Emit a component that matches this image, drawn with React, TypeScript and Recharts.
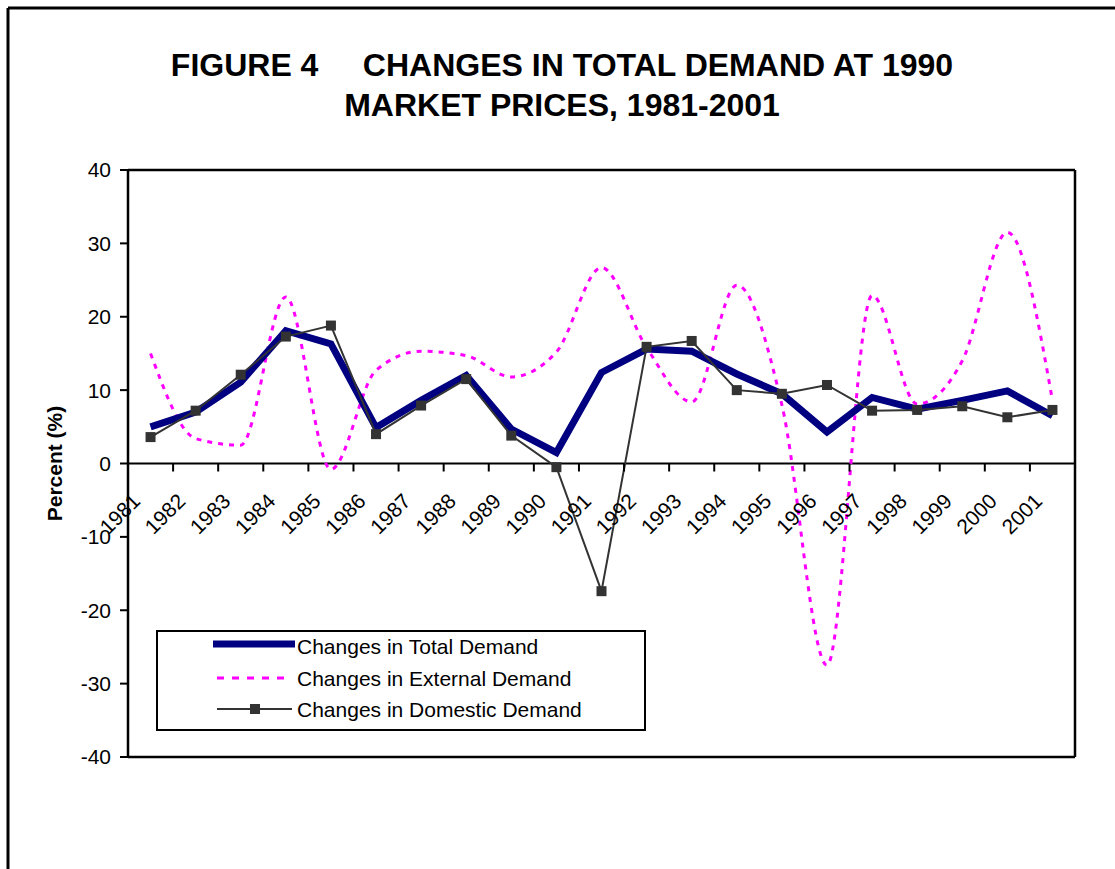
import { Line, LineChart, ReferenceLine, XAxis, YAxis } from 'recharts'

const years = ['1981', '1982', '1983', '1984', '1985', '1986', '1987', '1988', '1989', '1990', '1991',
  '1992', '1993', '1994', '1995', '1996', '1997', '1998', '1999', '2000', '2001']

const totalDemand = [5.0, 7.0, 11.1, 18.1, 16.3, 4.9, 8.6, 12.0, 4.7, 1.5, 12.4, 15.6, 15.3, 12.2, 9.5, 4.3, 9.0, 7.4, 8.6, 9.9, 6.5]
const externalDemand = [15.0, 3.4, 2.5, 22.7, -0.8, 12.7, 15.3, 14.7, 11.8, 15.2, 26.7, 15.8, 8.4, 24.3, 8.0, -27.5, 22.9, 8.1, 14.0, 31.5, 8.6]
const domesticDemand = [3.6, 7.2, 12.1, 17.3, 18.8, 4.0, 7.9, 11.5, 3.8, -0.5, -17.4, 15.9, 16.7, 10.0, 9.5, 10.7, 7.2, 7.3, 7.8, 6.3, 7.3]

const yTicks = [-40, -30, -20, -10, 0, 10, 20, 30, 40]
const Y_MIN = -40
const Y_MAX = 40

const chartData = years.map((year, i) => ({
  year,
  total: totalDemand[i],
  external: externalDemand[i],
  domestic: domesticDemand[i],
}))

const W = 1115
const H = 869
const plot = { left: 128, right: 1075, top: 170, bottom: 757 }
const plotW = plot.right - plot.left
const plotH = plot.bottom - plot.top
const band = plotW / years.length
const zeroY = plot.top + (plotH * Y_MAX) / (Y_MAX - Y_MIN)

const FONT = '"Liberation Sans", Arial, sans-serif'

// year labels sit on the zero line, tick marks between categories
function YearTick(props: any) {
  const { x, payload, index } = props
  const isLast = index === years.length - 1
  const tx = x - 9
  const ty = zeroY + 39
  return (
    <g>
      <line x1={x - band / 2} x2={x - band / 2} y1={zeroY} y2={zeroY + 8} stroke='#000' strokeWidth={2} />
      {isLast && (
        <line x1={x + band / 2} x2={x + band / 2} y1={zeroY} y2={zeroY + 8} stroke='#000' strokeWidth={2} />
      )}
      <text
        x={tx}
        y={ty}
        textAnchor='end'
        fontSize={21}
        fontFamily={FONT}
        fill='#000'
        transform={`rotate(-45 ${tx} ${ty})`}
      >
        {payload.value}
      </text>
    </g>
  )
}

function SquareDot(props: any) {
  const { cx, cy, index } = props
  if (cx == null || cy == null) return <g key={index} />
  return <rect key={index} x={cx - 5} y={cy - 5} width={10} height={10} fill='#333333' />
}

function LegendBox() {
  const left = 157
  const top = 631
  const rows = [
    { label: 'Changes in Total Demand', y: 646 },
    { label: 'Changes in External Demand', y: 678 },
    { label: 'Changes in Domestic Demand', y: 709 },
  ]
  return (
    <g>
      <rect x={left} y={top} width={488} height={99} fill='#fff' stroke='#000' strokeWidth={2} />
      <line x1={213} x2={295} y1={rows[0].y - 2} y2={rows[0].y - 2} stroke='#000080' strokeWidth={7} />
      <line x1={217} x2={287} y1={rows[1].y} y2={rows[1].y} stroke='#FF00FF' strokeWidth={3} strokeDasharray='7 8' />
      <line x1={217} x2={292} y1={rows[2].y} y2={rows[2].y} stroke='#333333' strokeWidth={2} />
      <rect x={250} y={rows[2].y - 5} width={10} height={10} fill='#333333' />
      {rows.map((r) => (
        <text key={r.label} x={297} y={r.y + 8} fontSize={21} fontFamily={FONT} fill='#000'>
          {r.label}
        </text>
      ))}
    </g>
  )
}

export default function App() {
  return (
    <div style={{ position: 'absolute', left: 0, top: 0, width: W, height: H, background: '#fff' }}>
      <LineChart
        width={W}
        height={H}
        data={chartData}
        margin={{ top: plot.top - 1, right: W - plot.right - 1, bottom: H - plot.bottom - 1, left: plot.left - 48 }}
      >
        <ReferenceLine y={0} stroke='#000' strokeWidth={2} />
        <XAxis
          dataKey='year'
          height={1}
          padding={{ left: band / 2, right: band / 2 }}
          interval={0}
          tickLine={false}
          tickSize={0}
          tickMargin={0}
          axisLine={{ stroke: '#000', strokeWidth: 2.5 }}
          tick={<YearTick />}
        />
        <XAxis
          xAxisId='top'
          dataKey='year'
          orientation='top'
          height={1}
          tick={false}
          tickLine={false}
          axisLine={{ stroke: '#000', strokeWidth: 2.5 }}
        />
        <YAxis
          width={48}
          domain={[Y_MIN, Y_MAX]}
          ticks={yTicks}
          interval={0}
          tickSize={8}
          tickMargin={9}
          tickLine={{ stroke: '#000', strokeWidth: 2 }}
          axisLine={{ stroke: '#000', strokeWidth: 2.5 }}
          tick={{ fill: '#000', fontSize: 21, fontFamily: FONT }}
        />
        <YAxis
          yAxisId='right'
          orientation='right'
          width={1}
          domain={[Y_MIN, Y_MAX]}
          tick={false}
          tickLine={false}
          axisLine={{ stroke: '#000', strokeWidth: 2.5 }}
        />
        <Line
          dataKey='external'
          type='monotone'
          stroke='#FF00FF'
          strokeWidth={3}
          strokeDasharray='5 6'
          dot={false}
          isAnimationActive={false}
        />
        <Line
          dataKey='total'
          type='linear'
          stroke='#000080'
          strokeWidth={7}
          dot={false}
          isAnimationActive={false}
        />
        <Line
          dataKey='domestic'
          type='linear'
          stroke='#333333'
          strokeWidth={2}
          dot={<SquareDot />}
          isAnimationActive={false}
        />
      </LineChart>
      <svg width={W} height={H} style={{ position: 'absolute', left: 0, top: 0, pointerEvents: 'none' }}>
        <line x1={8} x2={W} y1={8} y2={8} stroke='#000' strokeWidth={3} />
        <line x1={8} x2={8} y1={8} y2={H} stroke='#000' strokeWidth={3} />
        <text x={562} y={76} textAnchor='middle' fontSize={32} fontWeight='bold' fontFamily={FONT} fill='#000' style={{ whiteSpace: 'pre' }}>
          {'FIGURE 4     CHANGES IN TOTAL DEMAND AT 1990'}
        </text>
        <text x={562} y={116} textAnchor='middle' fontSize={32} fontWeight='bold' fontFamily={FONT} fill='#000'>
          MARKET PRICES, 1981-2001
        </text>
        <text
          x={62}
          y={zeroY}
          textAnchor='middle'
          fontSize={21}
          fontWeight='bold'
          fontFamily={FONT}
          fill='#000'
          transform={`rotate(-90 62 ${zeroY})`}
        >
          Percent (%)
        </text>
        <LegendBox />
      </svg>
    </div>
  )
}
